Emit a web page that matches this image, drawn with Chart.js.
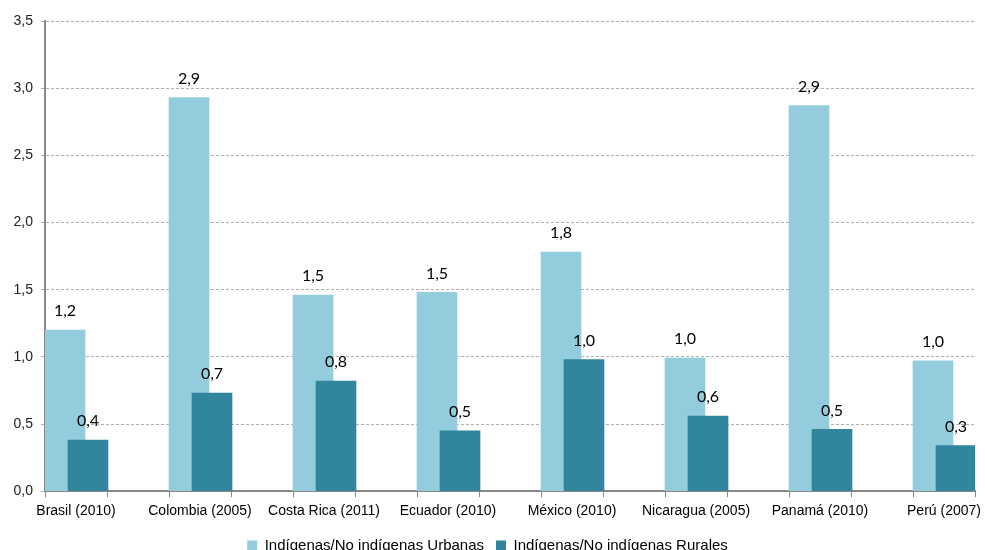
<!DOCTYPE html>
<html>
<head>
<meta charset="utf-8">
<script src="https://cdn.jsdelivr.net/npm/chart.js@4"></script>
<style>
  html, body { margin: 0; padding: 0; background: #fff; overflow: hidden; }
  #wrap { position: relative; width: 985px; height: 563px; }
</style>
</head>
<body>
<div id="wrap"><canvas id="chart"></canvas></div>
<script>
const categories = ["Brasil (2010)", "Colombia (2005)", "Costa Rica (2011)", "Ecuador (2010)", "México (2010)", "Nicaragua (2005)", "Panamá (2010)", "Perú (2007)"];
const urbanas = [1.20, 2.93, 1.46, 1.48, 1.78, 0.99, 2.87, 0.97];
const rurales = [0.38, 0.73, 0.82, 0.45, 0.98, 0.56, 0.46, 0.34];
const seriesNames = ["Indígenas/No indígenas Urbanas", "Indígenas/No indígenas Rurales"];
const yMax = 3.5;
const yStep = 0.5;

// each country sits in its own slot, with an empty slot between countries
const slotLabels = categories.flatMap((c, i) => i < categories.length - 1 ? [c, ""] : [c]);
const slotCount = slotLabels.length;
const lightShift = 20 / 62; // light bar centre, fraction of a slot
const darkShift = 43 / 62;  // dark bar centre, overlapping the light one

const fmt = v => v.toFixed(1).replace(".", ",");

const valueLabels = {
  id: "valueLabels",
  afterDatasetsDraw(chart) {
    const ctx = chart.ctx;
    ctx.save();
    ctx.font = "16px Lato";
    ctx.fillStyle = "#000";
    ctx.textAlign = "center";
    ctx.textBaseline = "bottom";
    chart.data.datasets.forEach((ds, di) => {
      const meta = chart.getDatasetMeta(di);
      meta.data.forEach((bar, i) => {
        ctx.fillText(fmt(ds.data[i].y), bar.x, bar.y - 11);
      });
    });
    ctx.restore();
  }
};

new Chart(document.getElementById("chart"), {
  type: "bar",
  data: {
    labels: slotLabels,
    datasets: [
      {
        label: seriesNames[0],
        data: urbanas.map((v, i) => ({ x: 2 * i, y: v })),
        backgroundColor: "#93cddd",
        xAxisID: "xLight",
        order: 2,
        barThickness: 40
      },
      {
        label: seriesNames[1],
        data: rurales.map((v, i) => ({ x: 2 * i, y: v })),
        backgroundColor: "#31859c",
        xAxisID: "xDark",
        order: 1,
        barThickness: 40
      }
    ]
  },
  options: {
    responsive: true,
    maintainAspectRatio: false,
    animation: false,
    grouped: false,
    layout: { padding: { top: 21, right: 10, left: 0, bottom: 0 } },
    plugins: {
      legend: {
        position: "bottom",
        reverse: true,
        labels: {
          boxWidth: 10,
          boxHeight: 10,
          padding: 12,
          color: "#000",
          font: { family: "Liberation Sans", size: 15 }
        }
      },
      tooltip: { enabled: false }
    },
    scales: {
      x: {
        type: "category",
        offset: true,
        afterFit: s => { s.paddingLeft = 0; s.paddingRight = 0; },
        grid: { drawOnChartArea: false, offset: true, tickLength: 6, color: "#888", lineWidth: 1 },
        border: { color: "#888", width: 2 },
        ticks: { autoSkip: false, maxRotation: 0, padding: 6, color: "#000", font: { family: "Liberation Sans", size: 14 } }
      },
      xLight: { type: "linear", display: false, offset: false, min: -lightShift, max: slotCount - lightShift },
      xDark: { type: "linear", display: false, offset: false, min: -darkShift, max: slotCount - darkShift },
      y: {
        min: 0,
        max: yMax,
        afterFit: s => { s.width = 45; },
        grid: { color: "#b0b0b0", tickLength: 4 },
        border: { color: "#888", width: 2, dash: [3, 2] },
        ticks: { stepSize: yStep, padding: 8, color: "#222", callback: v => fmt(v), font: { family: "Liberation Sans", size: 14 } }
      }
    }
  },
  plugins: [valueLabels]
});
</script>
</body>
</html>
